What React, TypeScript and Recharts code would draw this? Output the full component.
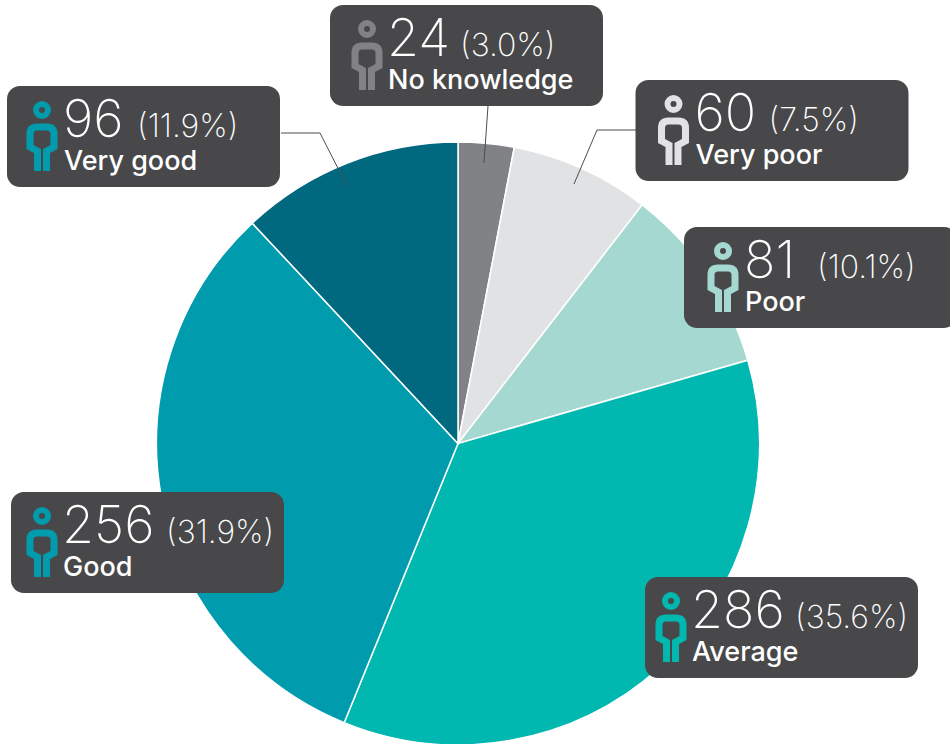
import { PieChart, Pie, Cell } from 'recharts';

const categories = ['No knowledge', 'Very poor', 'Poor', 'Average', 'Good', 'Very good'];
const counts = [24, 60, 81, 286, 256, 96];
const percents = ['(3.0%)', '(7.5%)', '(10.1%)', '(35.6%)', '(31.9%)', '(11.9%)'];
const sliceColors = ['#808285', '#e1e2e4', '#a5d8d0', '#00b8b0', '#009cad', '#00687f'];

const pieData = categories.map((name, i) => ({ name, value: counts[i] }));

// callout placement, in page pixels
const callouts = [
  { x: 330, y: 5, iconX: 37, textX: 57, pctX: 130, leader: '484,163 488,106' },
  { x: 635.5, y: 80, iconX: 38, textX: 59, pctX: 133, leader: '574,184 597,130 636,130' },
  { x: 684, y: 227, iconX: 39, textX: 60, pctX: 133, leader: '' },
  { x: 645, y: 577, iconX: 26, textX: 46, pctX: 150, leader: '' },
  { x: 11, y: 492, iconX: 31, textX: 51, pctX: 155, leader: '' },
  { x: 7, y: 86, iconX: 35, textX: 56, pctX: 130, leader: '347,186 320,133 281,133' },
];

const FONT = 'Inter, sans-serif';

function Callout({ index }: any) {
  const c = callouts[index];
  const color = sliceColors[index] === '#00687f' ? '#009cad' : sliceColors[index];
  return (
    <g>
      {c.leader && <polyline points={c.leader} fill="none" stroke="#4d4d4f" strokeWidth={1} />}
      <g transform={`translate(${c.x},${c.y})`}>
        <rect width={273} height={101} rx={13} fill="#48484a" />
        {/* person icon */}
        <g transform={`translate(${c.iconX},0)`} fill="none" stroke={color}>
          <circle cx={0} cy={24} r={6} strokeWidth={6} />
          <path
            d="M-4.5,85 V65 L-12,61 V48 Q-12,41 -5,41 H5 Q12,41 12,48 V61 L4.5,65 V85"
            strokeWidth={7}
          />
        </g>
        <text x={c.textX} y={51} fill="#fff" fontFamily={FONT} fontWeight={200} fontSize={52}>
          {counts[index]}
        </text>
        <text x={c.pctX} y={51} fill="#fff" fontFamily={FONT} fontWeight={200} fontSize={32}>
          {percents[index]}
        </text>
        <text x={c.textX + 1} y={84} fill="#fff" fontFamily={FONT} fontWeight={500} fontSize={27}>
          {categories[index]}
        </text>
      </g>
    </g>
  );
}

export default function App() {
  return (
    <div style={{ position: 'absolute', left: 0, top: 0, width: 950, height: 744, overflow: 'hidden' }}>
      <PieChart width={950} height={744} margin={{ top: 0, right: 0, bottom: 0, left: 0 }}>
        <Pie
          data={pieData}
          dataKey="value"
          nameKey="name"
          cx={458}
          cy={443.5}
          innerRadius={0}
          outerRadius={301.5}
          startAngle={90}
          endAngle={-270}
          stroke="#fff"
          strokeWidth={1.5}
          labelLine={false}
          label={(props: any) => <Callout {...props} />}
          isAnimationActive={false}
        >
          {pieData.map((d, i) => (
            <Cell key={d.name} fill={sliceColors[i]} />
          ))}
        </Pie>
      </PieChart>
    </div>
  );
}
